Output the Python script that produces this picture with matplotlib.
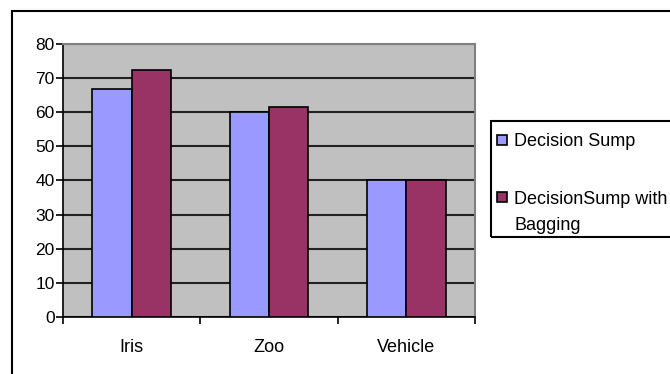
import matplotlib
matplotlib.use("Agg")
import matplotlib.pyplot as plt
from matplotlib.patches import Rectangle
import numpy as np

categories = ["Iris", "Zoo", "Vehicle"]
series_names = ["Decision Sump", "DecisionSump with\nBagging"]
decision_stump = [66.7, 60.2, 40.0]
stump_bagging = [72.4, 61.5, 40.0]
y_ticks = [0, 10, 20, 30, 40, 50, 60, 70, 80]

colors = ["#9999FF", "#993366"]

plt.rcParams["font.family"] = ["Liberation Sans", "DejaVu Sans"]
plt.rcParams["font.size"] = 13

W, H = 670, 374
fig = plt.figure(figsize=(W / 100, H / 100), dpi=100)

# outer chart frame (runs off the right and bottom edge)
fig.patches.append(Rectangle((12 / W, -0.05), 1.0, 1 - 11 / H + 0.05,
                             transform=fig.transFigure, fill=False,
                             edgecolor="black", linewidth=1.5))

ax = fig.add_axes([63 / W, 1 - 317 / H, (475 - 63) / W, (317 - 44) / H])
ax.set_facecolor("#C0C0C0")

x = np.arange(len(categories))
w = 1 / 3.5
ax.bar(x - w / 2, decision_stump, w, color=colors[0], edgecolor="black",
       linewidth=1.2, zorder=3)
ax.bar(x + w / 2, stump_bagging, w, color=colors[1], edgecolor="black",
       linewidth=1.2, zorder=3)

ax.set_xlim(-0.5, len(categories) - 0.5)
ax.set_ylim(0, 80)
ax.set_yticks(y_ticks)
ax.yaxis.grid(True, color="#222222", linewidth=1.5, zorder=1)
ax.set_axisbelow(True)

ax.set_xticks(x)
ax.set_xticklabels(categories, fontsize=13)
ax.set_xticks(np.arange(len(categories) + 1) - 0.5, minor=True)
ax.tick_params(axis="x", which="major", length=0, pad=16)
ax.tick_params(axis="x", which="minor", length=5, width=1.2, direction="out")
ax.tick_params(axis="y", length=5, width=1.2, direction="out", pad=1,
               labelsize=12.5)

for side in ("top", "right"):
    ax.spines[side].set_color("#808080")
    ax.spines[side].set_linewidth(1.5)
for side in ("left", "bottom"):
    ax.spines[side].set_color("black")
    ax.spines[side].set_linewidth(1.2)

# legend box drawn in figure pixels
fig.patches.append(Rectangle((491 / W, 1 - 237 / H), 0.5, (237 - 121) / H,
                             transform=fig.transFigure, fill=False,
                             edgecolor="black", linewidth=1.5))
marker_centres = [140.3, 196.7]
first_baselines = [146.3, 204.0]
line_step = 25.5
for name, color, yc, yb in zip(series_names, colors, marker_centres,
                                first_baselines):
    fig.patches.append(Rectangle((497 / W, 1 - (yc + 5) / H), 9.5 / W, 10 / H,
                                 transform=fig.transFigure, facecolor=color,
                                 edgecolor="black", linewidth=1.2))
    for i, line in enumerate(name.split("\n")):
        fig.text(514 / W, 1 - (yb + i * line_step) / H, line, ha="left",
                 va="baseline", fontsize=13)

fig.savefig("out.png", dpi=100)
